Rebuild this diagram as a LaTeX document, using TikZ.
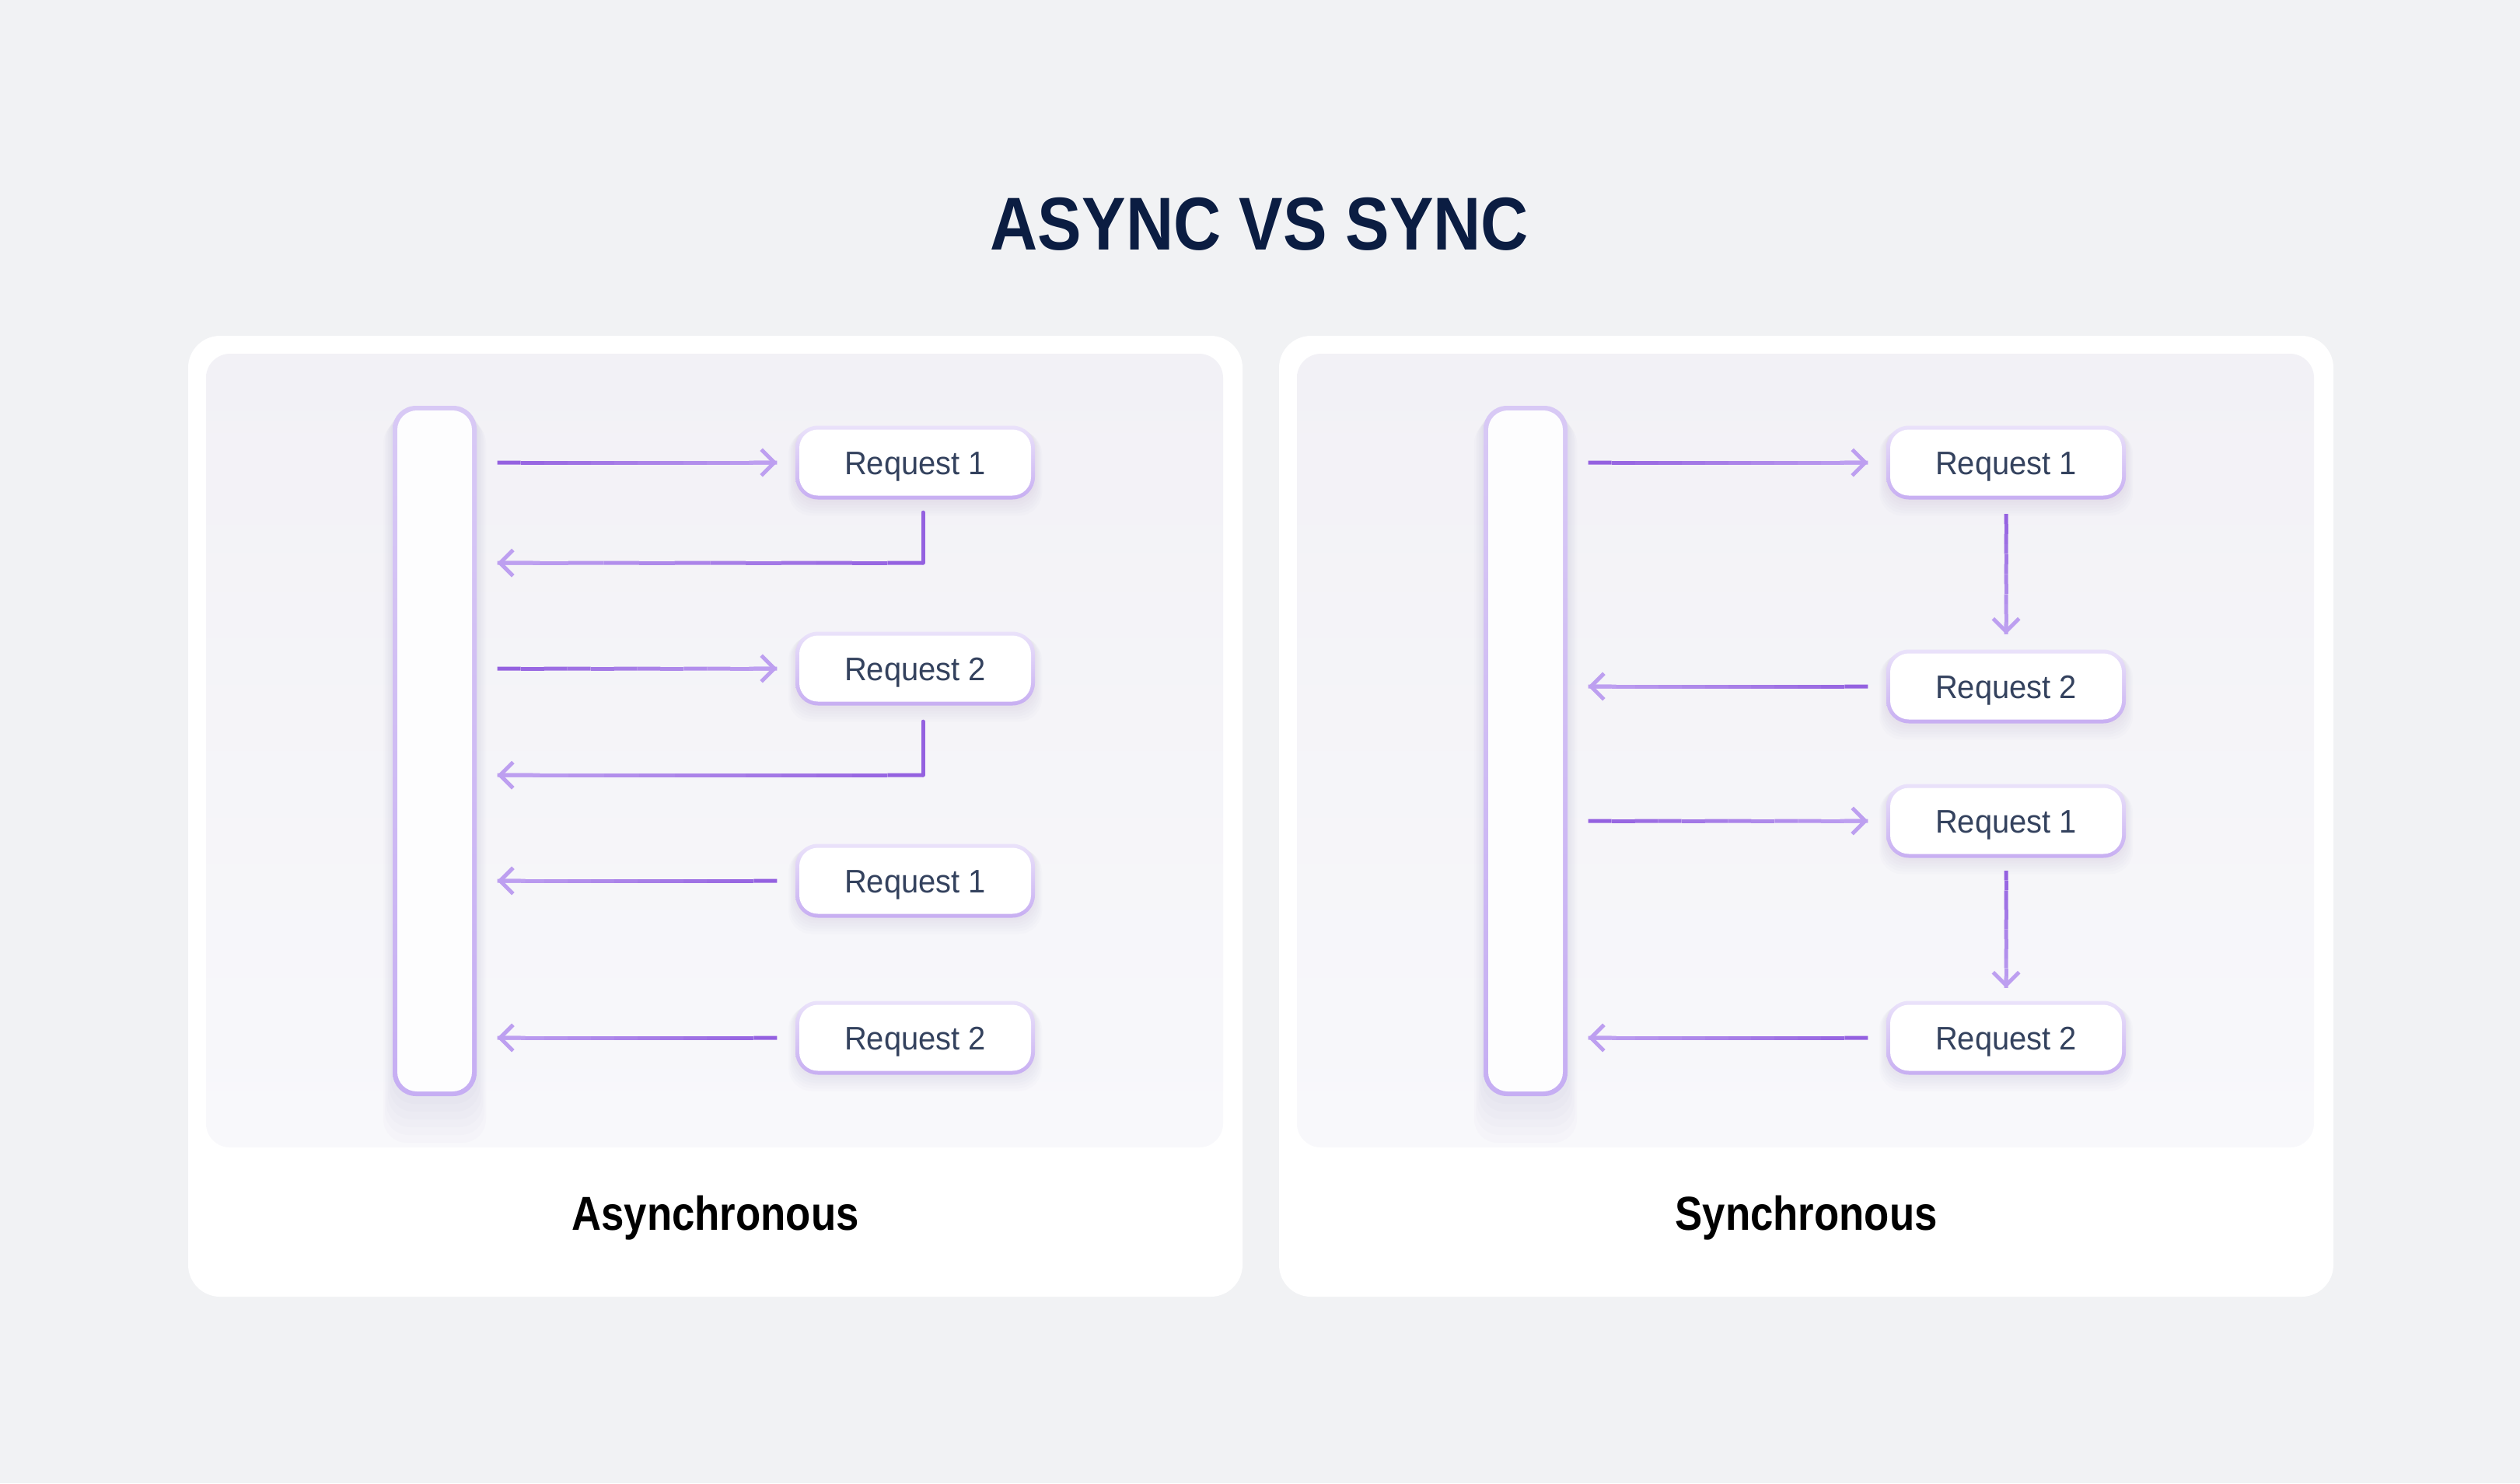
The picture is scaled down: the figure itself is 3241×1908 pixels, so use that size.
\documentclass[tikz,border=0pt]{standalone}
\usepackage{fontspec}
\setmainfont{Liberation Sans}
\newfontfamily\reqfont{Liberation Sans}[FakeStretch=0.95]
\newfontfamily\labfont{Liberation Sans}[FakeStretch=0.86]
\newfontfamily\ttlfont{Liberation Sans}[FakeStretch=0.88]
\usetikzlibrary{arrows.meta,calc}
\definecolor{bgc}{HTML}{F1F2F4}
\definecolor{panelinTop}{HTML}{F2F1F6}
\definecolor{panelinBot}{HTML}{F8F8FB}
\definecolor{frameTop}{HTML}{EAE2FA}
\definecolor{frameBot}{HTML}{C7AEF2}
\definecolor{barTop}{HTML}{D8C9F5}
\definecolor{barBot}{HTML}{C6AEF3}
\definecolor{barfill}{HTML}{FDFDFE}
\definecolor{arrdark}{HTML}{9461E0}
\definecolor{arrlight}{HTML}{BD9FF0}
\definecolor{reqtext}{HTML}{34425E}
\definecolor{titlec}{HTML}{0B1D42}
\definecolor{shadowc}{HTML}{6E5E9E}
% x1,y1,x2,y2,radius,spread,drop,opacity
\newcommand\softshadow[8]{%
  \foreach \k in {1,...,6}{%
    \fill[shadowc, opacity=#8, rounded corners=#5]
      (#1-\k*#6, #2+\k*#7*0.3) rectangle (#3+\k*#6, #4+\k*#7);
  }}
% name, cx, cy, label
\newcommand\reqbox[4]{%
  \softshadow{#2-154}{#3-47.5}{#2+154}{#3+47.5}{9pt}{1.5}{3.5}{0.014}
  \shade[top color=frameTop, bottom color=frameBot, rounded corners=8.7pt]
    (#2-154,#3-47.5) rectangle (#2+154,#3+47.5);
  \node[reqnode] (#1) at (#2,#3) {#4};
}
% name, cx
\newcommand\barbox[2]{%
  \softshadow{#2-54}{522}{#2+54}{1410}{9pt}{2}{10}{0.02}
  \shade[top color=barTop, bottom color=barBot, rounded corners=9pt]
    (#2-54,522) rectangle (#2+54,1410);
  \node[barnode] (#1) at (#2,966) {};
}
% gradient arrow from #1 to #2 (coordinate names)
\newcommand\gline[2]{%
  \foreach \i in {0,...,11}{%
    \pgfmathtruncatemacro\p{100-\i*100/11}
    \draw[line width=1.5pt, color={arrdark!\p!arrlight}]
      ($(#1)!{\i/12}!(#2)$) -- ($(#1)!{(\i+1)/12}!(#2)$);
  }
  \draw[line width=1.5pt, arrlight, -{Straight Barb[length=5pt,width=10pt]}]
    ($(#1)!0.9!(#2)$) -- (#2);
}
\begin{document}
\begin{tikzpicture}[x=0.3pt,y=-0.3pt,
  reqnode/.style={rectangle, rounded corners=7.2pt, fill=white,
    minimum width=89.4pt, minimum height=25.5pt, inner sep=0pt,
    text height=9pt, text depth=0pt,
    font=\reqfont\fontsize{12.6}{15}\selectfont, text=reqtext},
  barnode/.style={rectangle, rounded corners=7.5pt, fill=barfill,
    minimum width=28.8pt, minimum height=262.8pt, inner sep=0pt},
  lab/.style={font=\labfont\bfseries\fontsize{18.4}{22}\selectfont,
    text=black, inner sep=0pt},
  ttl/.style={font=\ttlfont\bfseries\fontsize{28.9}{34}\selectfont,
    text=titlec, inner sep=0pt},
  arr/.style={line width=1.5pt, line cap=round, line join=round}
]
\useasboundingbox (0,0) rectangle (3241,1908);
\fill[bgc] (0,0) rectangle (3241,1908);

\node[ttl, anchor=base] (title) at (1620,321) {ASYNC VS SYNC};

% panels
\fill[white, rounded corners=12.3pt] (242,432) rectangle (1598,1668);
\shade[top color=panelinTop, bottom color=panelinBot, rounded corners=9.3pt]
  (265,455) rectangle (1573,1476);
\fill[white, rounded corners=12.3pt] (1645,432) rectangle (3001,1668);
\shade[top color=panelinTop, bottom color=panelinBot, rounded corners=9.3pt]
  (1668,455) rectangle (2976,1476);

\node[lab, anchor=base] (labA) at (920,1582) {Asynchronous};
\node[lab, anchor=base] (labB) at (2323,1582) {Synchronous};

% ---------- Asynchronous ----------
\barbox{barA}{559}
\reqbox{a1}{1177}{595}{Request 1}
\reqbox{a2}{1177}{860}{Request 2}
\reqbox{a3}{1177}{1133}{Request 1}
\reqbox{a4}{1177}{1335}{Request 2}

\coordinate (a1s) at ($(barA.east |- a1.west)+(32,0)$);
\coordinate (a1e) at ($(a1.west)+(-28,0)$);
\gline{a1s}{a1e}
\coordinate (a1d) at ($(a1.south)+(10,21)$);
\coordinate (a1c) at ($(a1.south)+(10,86)$);
\coordinate (a1r) at ($(barA.east |- a1c)+(32,0)$);
\draw[arr, arrdark] (a1d) -- (a1c);
\gline{a1c}{a1r}

\coordinate (a2s) at ($(barA.east |- a2.west)+(32,0)$);
\coordinate (a2e) at ($(a2.west)+(-28,0)$);
\gline{a2s}{a2e}
\coordinate (a2d) at ($(a2.south)+(10,25)$);
\coordinate (a2c) at ($(a2.south)+(10,94)$);
\coordinate (a2r) at ($(barA.east |- a2c)+(32,0)$);
\draw[arr, arrdark] (a2d) -- (a2c);
\gline{a2c}{a2r}

\coordinate (a3s) at ($(barA.east |- a3.west)+(32,0)$);
\coordinate (a3e) at ($(a3.west)+(-28,0)$);
\gline{a3e}{a3s}

\coordinate (a4s) at ($(barA.east |- a4.west)+(32,0)$);
\coordinate (a4e) at ($(a4.west)+(-28,0)$);
\gline{a4e}{a4s}

% ---------- Synchronous ----------
\barbox{barB}{1962}
\reqbox{b1}{2580}{595}{Request 1}
\reqbox{b2}{2580}{883}{Request 2}
\reqbox{b3}{2580}{1056}{Request 1}
\reqbox{b4}{2580}{1335}{Request 2}

\coordinate (b1s) at ($(barB.east |- b1.west)+(32,0)$);
\coordinate (b1e) at ($(b1.west)+(-28,0)$);
\gline{b1s}{b1e}
\coordinate (b1d) at ($(b1.south)+(0,23)$);
\coordinate (b2u) at ($(b2.north)+(0,-24)$);
\gline{b1d}{b2u}

\coordinate (b2s) at ($(barB.east |- b2.west)+(32,0)$);
\coordinate (b2e) at ($(b2.west)+(-28,0)$);
\gline{b2e}{b2s}

\coordinate (b3s) at ($(barB.east |- b3.west)+(32,0)$);
\coordinate (b3e) at ($(b3.west)+(-28,0)$);
\gline{b3s}{b3e}
\coordinate (b3d) at ($(b3.south)+(0,21)$);
\coordinate (b4u) at ($(b4.north)+(0,-21)$);
\gline{b3d}{b4u}

\coordinate (b4s) at ($(barB.east |- b4.west)+(32,0)$);
\coordinate (b4e) at ($(b4.west)+(-28,0)$);
\gline{b4e}{b4s}
\end{tikzpicture}
\end{document}
